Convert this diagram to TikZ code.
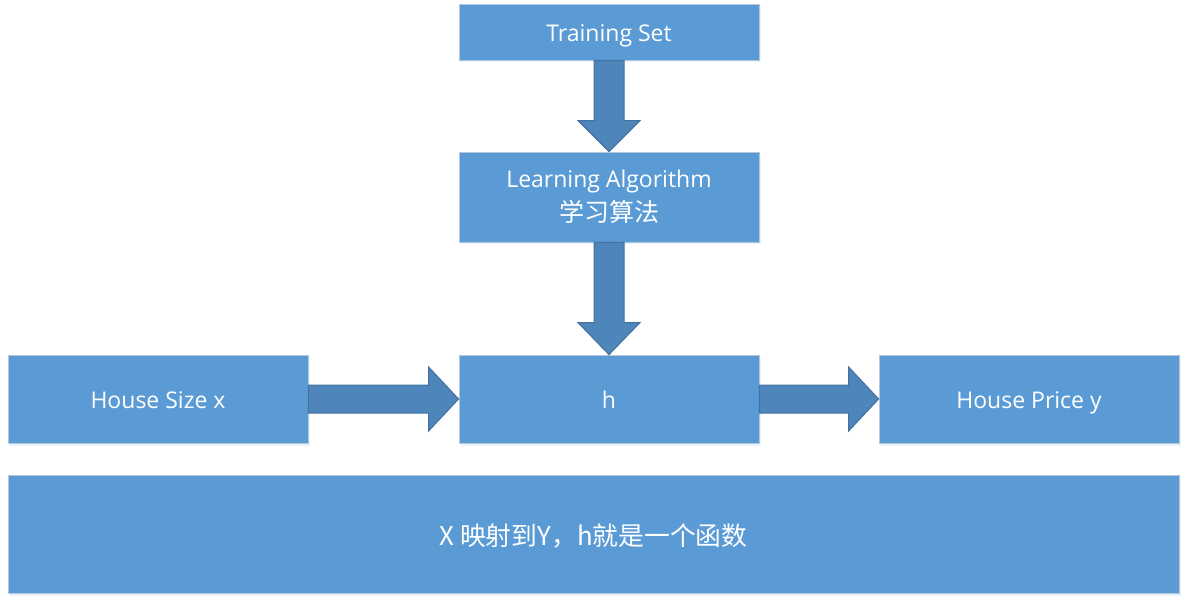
\documentclass[tikz,border=0pt]{standalone}
\usepackage{fontspec}
\setmainfont{Open Sans}
\newfontfamily\cjk{Noto Sans CJK SC}
\usetikzlibrary{calc,shadows}
\definecolor{boxblue}{HTML}{5B9BD5}
\definecolor{boxedge}{HTML}{B4C7DC}
\definecolor{arrowblue}{HTML}{4E86BC}
\definecolor{arrowedge}{HTML}{41719C}
\tikzset{
  blockbox/.style={draw=boxedge, line width=0.8pt, fill=boxblue, text=white, align=center,
    font=\fontsize{23}{34}\selectfont, inner sep=0pt,
    drop shadow={shadow xshift=1.5pt, shadow yshift=-2.5pt, opacity=0.12, fill=boxblue}},
  oneline/.style={text height=23pt, text depth=4.6pt},
  blockarrow/.style={draw=arrowedge, line width=1pt, fill=arrowblue, line join=miter}
}
\begin{document}
\begin{tikzpicture}[x=1pt,y=-1pt]
\useasboundingbox (0,0) rectangle (1190,609);
\node[blockbox, oneline, minimum width=300pt, minimum height=56pt] (ts) at (609,32) {Training Set};
\node[blockbox, minimum width=300pt, minimum height=90pt] (la) at (609,197) {Learning Algorithm\\{\cjk\fontsize{25}{34}\selectfont 学习算法}};
\node[blockbox, oneline, minimum width=300pt, minimum height=88pt] (h) at (609,399) {h};
\node[blockbox, oneline, minimum width=300pt, minimum height=88pt] (hs) at (158,399) {House Size x};
\node[blockbox, oneline, minimum width=300pt, minimum height=88pt] (hp) at (1029,399) {House Price y};
\node[blockbox, minimum width=1171pt, minimum height=118pt, font=\cjk\fontsize{25.8}{30}\selectfont, text height=29pt, text depth=5.4pt] (note) at (593.5,534) {X 映射到Y，h就是一个函数};
% vertical arrows
\draw[blockarrow] ($(ts.south)+(-15,0)$) -- ($(la.north)+(-15,-31)$) -- ($(la.north)+(-31,-31)$) -- (la.north)
  -- ($(la.north)+(31,-31)$) -- ($(la.north)+(15,-31)$) -- ($(ts.south)+(15,0)$) -- cycle;
\draw[blockarrow] ($(la.south)+(-15,0)$) -- ($(h.north)+(-15,-32)$) -- ($(h.north)+(-31,-32)$) -- (h.north)
  -- ($(h.north)+(31,-32)$) -- ($(h.north)+(15,-32)$) -- ($(la.south)+(15,0)$) -- cycle;
% horizontal arrows
\draw[blockarrow] ($(hs.east)+(0,-14)$) -- ($(h.west)+(-30,-14)$) -- ($(h.west)+(-30,-32)$) -- (h.west)
  -- ($(h.west)+(-30,32)$) -- ($(h.west)+(-30,14)$) -- ($(hs.east)+(0,14)$) -- cycle;
\draw[blockarrow] ($(h.east)+(0,-14)$) -- ($(hp.west)+(-30,-14)$) -- ($(hp.west)+(-30,-32)$) -- (hp.west)
  -- ($(hp.west)+(-30,32)$) -- ($(hp.west)+(-30,14)$) -- ($(h.east)+(0,14)$) -- cycle;
\end{tikzpicture}
\end{document}
